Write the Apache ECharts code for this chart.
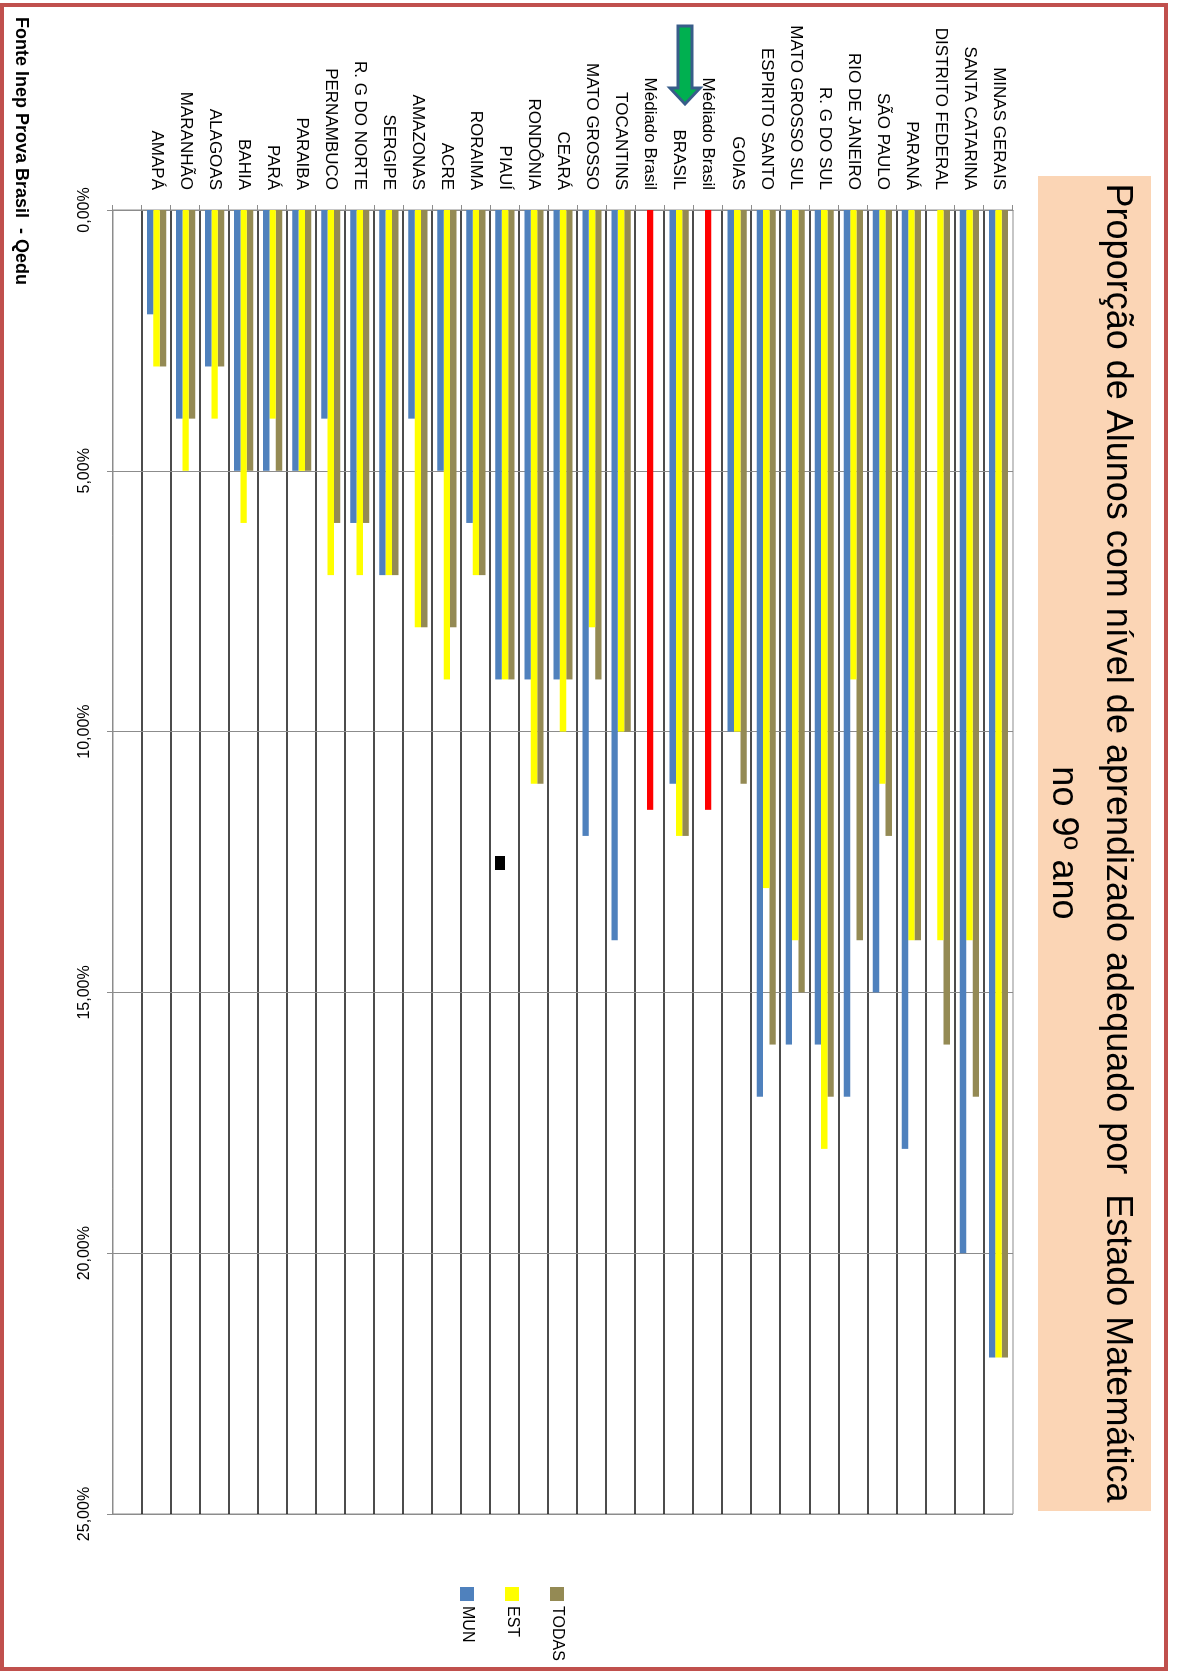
<!DOCTYPE html>
<html>
<head>
<meta charset="utf-8">
<title>Proporção de Alunos - Matemática 9º ano</title>
<script src="https://cdn.jsdelivr.net/npm/echarts@6/dist/echarts.min.js"></script>
<style>
    html, body { margin: 0; width: 1177px; height: 1674px; overflow: hidden; background: #fff; }
    /* o gráfico original é paisagem, girado 90° na página */
    #chart {
        position: absolute; left: 0; top: 0;
        width: 1674px; height: 1177px;
        transform-origin: 0 0;
        transform: translate(1177px, 0) rotate(90deg);
    }
    #frame {
        position: absolute; left: 0; top: 3px;
        width: 1168px; height: 1668px;
        border: 4px solid #c0504d; box-sizing: border-box;
        pointer-events: none;
    }
</style>
</head>
<body>
<div id="chart"></div>
<div id="frame"></div>
<script>
// estados, de cima para baixo ('' = linha vazia no fim)
const categories = ['MINAS GERAIS', 'SANTA CATARINA', 'DISTRITO FEDERAL', 'PARANÁ', 'SÃO PAULO',
    'RIO DE JANEIRO', 'R. G DO SUL', 'MATO GROSSO SUL', 'ESPIRITO SANTO', 'GOIAS',
    'Médiado Brasil', 'BRASIL', 'Médiado Brasil', 'TOCANTINS', 'MATO GROSSO', 'CEARÁ',
    'RONDÔNIA', 'PIAUÍ', 'RORAIMA', 'ACRE', 'AMAZONAS', 'SERGIPE', 'R. G DO NORTE',
    'PERNAMBUCO', 'PARAIBA', 'PARÁ', 'BAHIA', 'ALAGOAS', 'MARANHÃO', 'AMAPÁ', '']

const mun = [22, 20, null, 18, 15, 17, 16, 16, 17, 10, null, 11, null, 14, 12, 9,
    9, 9, 6, 5, 4, 7, 6, 4, 5, 5, 5, 3, 4, 2, null]
const est = [22, 14, 14, 14, 11, 9, 18, 14, 13, 10, 11.5, 12, 11.5, 10, 8, 10,
    11, 9, 7, 9, 8, 7, 7, 7, 5, 4, 6, 4, 5, 3, null]
const todas = [22, 17, 16, 14, 12, 14, 17, 15, 16, 11, null, 12, null, 10, 9, 9,
    11, 9, 7, 8, 8, 7, 6, 6, 5, 5, 5, 3, 4, 3, null]

const valueTicks = [0, 5, 10, 15, 20, 25]

const titleLines = ['Proporção de Alunos com nível de aprendizado adequado por  Estado Matemática', 'no 9º ano']
const source = 'Fonte Inep Prova Brasil  - Qedu'

const FONT = "'Liberation Sans', Arial, sans-serif"

// barra da média em vermelho
const estData = est.map((v, i) =>
    categories[i] === 'Médiado Brasil' ? { value: v, itemStyle: { color: '#ff0000' } } : v)

const chart = echarts.init(document.getElementById('chart'))

const option = {
    animation: false,
    textStyle: { fontFamily: FONT },
    grid: {
        left: 210, top: 164, width: 1304, height: 900,
        show: true, borderColor: '#8c8c8c', borderWidth: 1
    },
    legend: {
        orient: 'vertical',
        left: 1582, top: 607,
        itemWidth: 14, itemHeight: 14, itemGap: 29,
        icon: 'rect',
        data: ['TODAS', 'EST', 'MUN'],
        textStyle: { fontSize: 16, color: '#000', lineHeight: 14 }
    },
    xAxis: {
        type: 'value',
        min: valueTicks[0],
        max: valueTicks[valueTicks.length - 1],
        interval: 5,
        axisLine: { show: true, lineStyle: { color: '#8c8c8c' } },
        axisTick: { show: true, length: 6, lineStyle: { color: '#8c8c8c' } },
        axisLabel: {
            rotate: 180, margin: 20, fontSize: 16, color: '#000',
            formatter: v => v.toFixed(2).replace('.', ',') + '%'
        },
        splitLine: { show: true, lineStyle: { color: '#8c8c8c', width: 1 } }
    },
    yAxis: {
        type: 'category',
        inverse: true,
        data: categories,
        axisLine: { show: true, lineStyle: { color: '#8c8c8c' } },
        axisTick: { show: true, length: 5, lineStyle: { color: '#8c8c8c' } },
        axisLabel: { fontSize: 17, color: '#000', margin: 20, interval: 0 },
        splitLine: {
            show: true, showMinLine: false, showMaxLine: false,
            lineStyle: { color: '#111', width: 1.5 }
        }
    },
    // ordem de cima para baixo dentro de cada estado: TODAS, EST, MUN
    series: [
        { name: 'TODAS', type: 'bar', data: todas, itemStyle: { color: '#948a54' }, barGap: '0%', barCategoryGap: '34%' },
        { name: 'EST', type: 'bar', data: estData, itemStyle: { color: '#ffff00' }, barGap: '0%', barCategoryGap: '34%' },
        { name: 'MUN', type: 'bar', data: mun, itemStyle: { color: '#4f81bd' }, barGap: '0%', barCategoryGap: '34%' }
    ],
    graphic: [
        { type: 'rect', shape: { x: 176, y: 26, width: 1335, height: 113 }, style: { fill: '#fbd5b5' }, z: -1 },
        {
            type: 'text', x: 843, y: 60,
            style: { text: titleLines[0], fontSize: 36, fontFamily: FONT, fill: '#000', textAlign: 'center', textVerticalAlign: 'middle' }
        },
        {
            type: 'text', x: 843, y: 114,
            style: { text: titleLines[1], fontSize: 36, fontFamily: FONT, fill: '#000', textAlign: 'center', textVerticalAlign: 'middle' }
        },
        {
            type: 'text', x: 17, y: 1156,
            style: { text: source, fontSize: 18, fontWeight: 'bold', fontFamily: FONT, fill: '#000', textAlign: 'left', textVerticalAlign: 'middle' }
        },
        // seta apontando para BRASIL
        {
            type: 'polygon',
            shape: { points: [[26, 485], [88, 485], [88, 477], [104, 492], [88, 507], [88, 499], [26, 499]] },
            style: { fill: '#00b050', stroke: '#385d8a', lineWidth: 3 }
        },
        { type: 'rect', shape: { x: 856, y: 672, width: 14, height: 10 }, style: { fill: '#000' } }
    ]
}

chart.setOption(option)
</script>
</body>
</html>
